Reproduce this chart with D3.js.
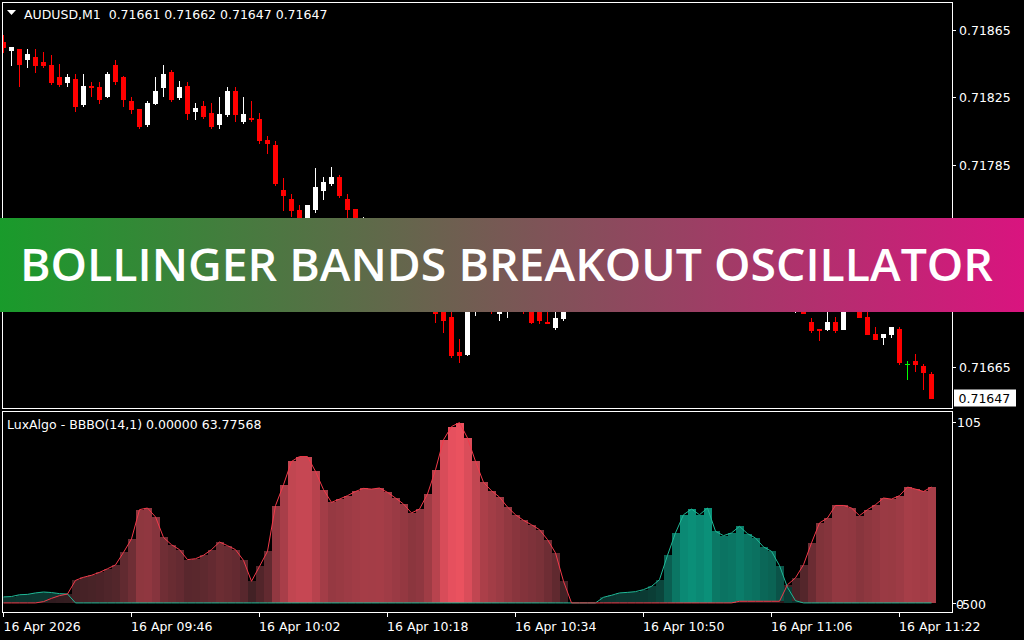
<!DOCTYPE html>
<html><head><meta charset="utf-8">
<script src="https://cdn.jsdelivr.net/npm/d3@7"></script>
<style>html,body{margin:0;padding:0;background:#000;overflow:hidden}svg{display:block}text{white-space:pre}</style>
</head><body><svg id="c" width="1024" height="640"></svg>
<script>
// ---------------- DATA ----------------
const symbolTitle = "AUDUSD,M1  0.71661 0.71662 0.71647 0.71647";
const oscTitle = "LuxAlgo - BBBO(14,1) 0.00000 63.77568";
const bannerTitle = "BOLLINGER BANDS BREAKOUT OSCILLATOR";
const lastPrice = 0.71647;

const opens = [0.71858,0.71853,0.71854,0.71848,0.71849,0.71846,0.71844,0.71837,0.71834,0.71836,
0.71821,0.71832,0.71831,0.71826,0.71844,0.71837,0.71823,0.71818,0.71809,0.71822,
0.71831,0.71840,0.71825,0.71832,0.71817,0.71820,0.71816,0.71809,0.71815,0.71829,
0.71811,0.71813,0.71812,0.71800,0.71797,0.71770,0.71765,0.71758,0.71740,0.71759,
0.71770,0.71774,0.71778,0.71765,0.71759,0.71744,0.71750,0.71738,0.71730,0.71736,
0.71728,0.71733,0.71738,0.71726,0.71704,0.71701,0.71695,0.71674,0.71673,0.71706,
0.71715,0.71710,0.71697,0.71702,0.71712,0.71706,0.71702,0.71700,0.71692,0.71689,
0.71694,0.71706,0.71712,0.71708,0.71716,0.71722,0.71727,0.71724,0.71731,0.71734,
0.71731,0.71737,0.71743,0.71746,0.71750,0.71743,0.71750,0.71745,0.71740,0.71748,
0.71738,0.71733,0.71740,0.71744,0.71736,0.71730,0.71725,0.71720,0.71713,0.71705,
0.71708,0.71692,0.71688,0.71688,0.71692,0.71688,0.71702,0.71700,0.71695,0.71685,
0.71683,0.71685,0.71688,0.71667,0.71669,0.71666,0.71661];
const highs = [0.71862,0.71855,0.71854,0.71854,0.71854,0.71852,0.71850,0.71845,0.71839,0.71839,
0.71839,0.71834,0.71834,0.71840,0.71847,0.71838,0.71825,0.71818,0.71823,0.71837,
0.71844,0.71841,0.71835,0.71834,0.71822,0.71823,0.71822,0.71825,0.71831,0.71831,
0.71825,0.71823,0.71816,0.71802,0.71799,0.71777,0.71768,0.71761,0.71761,0.71783,
0.71778,0.71784,0.71779,0.71768,0.71759,0.71754,0.71752,0.71741,0.71740,0.71738,
0.71737,0.71742,0.71740,0.71728,0.71706,0.71703,0.71699,0.71682,0.71710,0.71718,
0.71720,0.71712,0.71712,0.71715,0.71716,0.71709,0.71705,0.71702,0.71699,0.71698,
0.71710,0.71715,0.71716,0.71719,0.71725,0.71730,0.71731,0.71734,0.71737,0.71737,
0.71740,0.71745,0.71751,0.71752,0.71751,0.71752,0.71752,0.71748,0.71751,0.71750,
0.71741,0.71743,0.71747,0.71746,0.71739,0.71733,0.71728,0.71723,0.71715,0.71712,
0.71710,0.71694,0.71688,0.71699,0.71695,0.71705,0.71707,0.71703,0.71699,0.71689,
0.71685,0.71689,0.71689,0.71669,0.71673,0.71667,0.71662];
const lows = [0.71852,0.71844,0.71832,0.71843,0.71840,0.71843,0.71833,0.71832,0.71832,0.71817,
0.71820,0.71826,0.71822,0.71825,0.71833,0.71820,0.71816,0.71807,0.71808,0.71821,
0.71826,0.71823,0.71824,0.71812,0.71812,0.71813,0.71807,0.71807,0.71814,0.71811,
0.71810,0.71811,0.71798,0.71792,0.71773,0.71758,0.71755,0.71735,0.71736,0.71757,
0.71765,0.71773,0.71766,0.71754,0.71742,0.71740,0.71735,0.71727,0.71728,0.71724,
0.71725,0.71730,0.71722,0.71701,0.71692,0.71686,0.71671,0.71668,0.71672,0.71696,
0.71704,0.71697,0.71693,0.71695,0.71703,0.71697,0.71691,0.71691,0.71691,0.71688,
0.71693,0.71703,0.71705,0.71706,0.71713,0.71719,0.71721,0.71722,0.71728,0.71728,
0.71729,0.71735,0.71740,0.71744,0.71740,0.71741,0.71742,0.71737,0.71738,0.71735,
0.71730,0.71731,0.71737,0.71733,0.71727,0.71722,0.71717,0.71710,0.71703,0.71698,
0.71697,0.71686,0.71681,0.71687,0.71686,0.71688,0.71699,0.71695,0.71685,0.71682,
0.71679,0.71683,0.71667,0.71658,0.71663,0.71652,0.71647];
const closes = [0.71855,0.71855,0.71845,0.71851,0.71844,0.71844,0.71834,0.71833,0.71837,0.71820,
0.71832,0.71831,0.71824,0.71839,0.71835,0.71824,0.71818,0.71808,0.71822,0.71829,
0.71839,0.71824,0.71831,0.71816,0.71819,0.71814,0.71808,0.71815,0.71829,0.71815,
0.71815,0.71812,0.71800,0.71798,0.71774,0.71767,0.71758,0.71738,0.71761,0.71772,
0.71775,0.71778,0.71767,0.71759,0.71745,0.71750,0.71738,0.71730,0.71736,0.71728,
0.71733,0.71738,0.71726,0.71704,0.71697,0.71693,0.71672,0.71672,0.71708,0.71715,
0.71710,0.71699,0.71708,0.71712,0.71706,0.71700,0.71692,0.71693,0.71691,0.71694,
0.71706,0.71712,0.71708,0.71716,0.71722,0.71727,0.71724,0.71731,0.71734,0.71731,
0.71737,0.71743,0.71748,0.71750,0.71743,0.71750,0.71745,0.71740,0.71748,0.71738,
0.71733,0.71740,0.71744,0.71736,0.71730,0.71725,0.71720,0.71713,0.71706,0.71708,
0.71697,0.71687,0.71687,0.71692,0.71687,0.71702,0.71699,0.71695,0.71685,0.71682,
0.71685,0.71689,0.71668,0.71667,0.71667,0.71662,0.71647];

const bullOsc = [3.3,3.5,4.5,4.7,5.5,6.0,5.7,5.1,4.9,0,
0,0,0,0,0,0,0,0,0,0, 0,0,0,0,0,0,0,0,0,0, 0,0,0,0,0,0,0,0,0,0,
0,0,0,0,0,0,0,0,0,0, 0,0,0,0,0,0,0,0,0,0, 0,0,0,0,0,0,0,0,0,0,
0,0,0,0,0,3.1,4.2,5.5,5.8,6.2, 7.3,9.1,12.8,26.2,38.5,48.5,51.6,48.5,52.2,39.4,
37.0,38.5,42.1,38.1,35.7,30.8,28.4,20.5,8.5,1.2, 0,0,0,0,0,0,0,0,0,0, 0,0,0,0,0,0,0];
const bearOsc = [0,0,0,0,0,0.7,2.5,4.0,4.9,12.4,
14.1,15.2,16.8,18.8,20.9,27.8,35.2,51.3,52.2,47.3,
36.0,32.0,29.3,23.8,24.3,26.2,29.3,33.5,31.5,29.3,
23.4,11.9,20.1,28.4,53.5,65.0,77.8,80.5,80.5,72.3,
62.3,55.3,57.1,59.0,61.3,63.0,62.6,63.2,60.8,57.7,
54.4,49.5,51.6,59.9,73.2,89.7,97.0,99.2,90.7,77.8,
66.3,61.7,58.2,52.7,48.5,45.4,43.0,40.3,34.8,27.5,
11.9,0,0,0,0,0,0,0,0,0, 0,0,0,0,0,0,0,0,0,0,
0,0,0.9,0.9,0.9,0.9,0.9,0.9,10.0,13.8,
21.0,33.0,44.0,46.7,53.6,53.6,52.2,48.0,51.3,54.0,
57.7,57.1,59.0,63.7,62.6,61.3,63.77568];

// price labels visible in the picture (0.71745 and 0.71705 lie under the banner)
const priceTicks = [0.71865,0.71825,0.71785,0.71665];
const timeTickIdx = [0,16,32,48,64,80,96,112];
const timeTickLabels = ["16 Apr 2026","16 Apr 09:46","16 Apr 10:02","16 Apr 10:18","16 Apr 10:34","16 Apr 10:50","16 Apr 11:06","16 Apr 11:22"];

// ---------------- DRAW ----------------
const svg = d3.select("#c");
const FONT = "DejaVu Sans, Verdana, sans-serif";
const FS = 12.5;
svg.append("rect").attr("width",1024).attr("height",640).attr("fill","#000");

const n = opens.length;
const x = d3.scaleLinear().domain([0, n-1]).range([3.5, 3.5 + 8*(n-1)]);
const yP = d3.scaleLinear().domain([0.71665, 0.71865]).range([367.3, 30]);
const yO = d3.scaleLinear().domain([-5, 105]).range([612, 412]);

const defs = svg.append("defs");
defs.append("clipPath").attr("id","cpMain").append("rect").attr("x",3).attr("y",3).attr("width",949).attr("height",405);
defs.append("clipPath").attr("id","cpOsc").append("rect").attr("x",3).attr("y",412).attr("width",949).attr("height",200);

// candles
const gC = svg.append("g").attr("clip-path","url(#cpMain)");
const candles = d3.range(n).map(i => ({i, o:opens[i], h:highs[i], l:lows[i], c:closes[i]}));
candles.forEach(d => {
  const cx = x(d.i);
  const col = d.c > d.o ? "#ffffff" : (d.c < d.o ? "#ff0000" : "#00ff00");
  const yh = Math.round(yP(d.h)), yl = Math.round(yP(d.l));
  gC.append("line").attr("x1",cx).attr("x2",cx).attr("y1",yh).attr("y2",yl+1)
    .attr("stroke",col).attr("stroke-width",1).attr("shape-rendering","crispEdges");
  const yt = Math.round(yP(Math.max(d.o,d.c))), yb = Math.round(yP(Math.min(d.o,d.c)));
  if (d.c === d.o) {
    gC.append("line").attr("x1",cx-2.5).attr("x2",cx+2.5).attr("y1",yt+0.5).attr("y2",yt+0.5)
      .attr("stroke",col).attr("stroke-width",1).attr("shape-rendering","crispEdges");
  } else {
    gC.append("rect").attr("x",cx-2.5).attr("y",yt).attr("width",5).attr("height",Math.max(1,yb-yt+1))
      .attr("fill",col).attr("shape-rendering","crispEdges");
  }
});

// oscillator columns
const gO = svg.append("g").attr("clip-path","url(#cpOsc)");
const bearColor = d3.scaleLinear().domain([0,100]).range(["#2b1a1d","#ec5260"]).clamp(true);
const bullColor = d3.scaleLinear().domain([0,52]).range(["#0b2c28","#0b9079"]).clamp(true);
const y0 = Math.round(yO(0));
d3.range(n).forEach(i => {
  const items = [{v:bullOsc[i], c:bullColor(bullOsc[i])},{v:bearOsc[i], c:bearColor(bearOsc[i])}]
    .filter(e => e.v > 0).sort((a,b)=>b.v-a.v);
  items.forEach(e => {
    const yt = Math.round(yO(e.v));
    gO.append("rect").attr("x",x(i)-4).attr("y",yt).attr("width",8).attr("height",Math.max(0,y0-yt))
      .attr("fill",e.c).attr("shape-rendering","crispEdges");
  });
});
const lineGen = arr => d3.line().x((d,i)=>x(i)).y(d=>yO(d))(arr);
gO.append("path").attr("d",lineGen(bullOsc)).attr("fill","none").attr("stroke","#1fb896").attr("stroke-width",1);
gO.append("path").attr("d",lineGen(bearOsc)).attr("fill","none").attr("stroke","#f23a4a").attr("stroke-width",1);

// borders
svg.append("rect").attr("x",2.5).attr("y",2.5).attr("width",950).attr("height",406)
  .attr("fill","none").attr("stroke","#fff").attr("stroke-width",1);
svg.append("rect").attr("x",2.5).attr("y",411.5).attr("width",950).attr("height",201)
  .attr("fill","none").attr("stroke","#fff").attr("stroke-width",1);

// price axis
const gA = svg.append("g").attr("font-family",FONT).attr("font-size",FS).attr("fill","#fff");
priceTicks.forEach(p => {
  const yy = Math.round(yP(p)) + 0.5;
  gA.append("line").attr("x1",953).attr("x2",956).attr("y1",yy).attr("y2",yy).attr("stroke","#fff");
  gA.append("text").attr("x",959).attr("y",yy).attr("dy","0.36em").text(p.toFixed(5));
});
const yl = Math.round(yP(lastPrice));
svg.append("rect").attr("x",954).attr("y",yl-8.5).attr("width",62).attr("height",17).attr("fill","#fff");
svg.append("text").attr("x",958.5).attr("y",yl).attr("dy","0.36em").attr("font-family",FONT).attr("font-size",FS)
  .attr("fill","#000").text(lastPrice.toFixed(5));

// osc axis labels
gA.append("line").attr("x1",953).attr("x2",956).attr("y1",422.5).attr("y2",422.5).attr("stroke","#fff");
gA.append("text").attr("x",957).attr("y",422).attr("dy","0.36em").text("105");
gA.append("line").attr("x1",953).attr("x2",956).attr("y1",603.5).attr("y2",603.5).attr("stroke","#fff");
gA.append("text").attr("x",956).attr("y",604).attr("dy","0.36em").text("0");
gA.append("text").attr("x",957.5).attr("y",604).attr("dy","0.36em").text("-500");

// time axis
timeTickIdx.forEach((ti,k) => {
  const xx = x(ti);
  gA.append("line").attr("x1",xx).attr("x2",xx).attr("y1",612).attr("y2",617).attr("stroke","#fff");
  gA.append("text").attr("x",xx - (k===0?0:0.5)).attr("y",626).attr("dy","0.36em").text(timeTickLabels[k]);
});

// titles
svg.append("path").attr("d","M7,10 L16,10 L11.5,15 Z").attr("fill","#fff");
svg.append("text").attr("x",24).attr("y",14).attr("dy","0.36em").attr("font-family",FONT).attr("font-size",FS)
  .attr("fill","#fff").text(symbolTitle);
svg.append("text").attr("x",7).attr("y",424).attr("dy","0.36em").attr("font-family",FONT).attr("font-size",FS)
  .attr("fill","#fff").text(oscTitle);

// banner
const grad = defs.append("linearGradient").attr("id","bg").attr("x1","0").attr("x2","1").attr("y1","0").attr("y2","0");
grad.append("stop").attr("offset","0%").attr("stop-color","#199b2b");
grad.append("stop").attr("offset","100%").attr("stop-color","#d9147f");
svg.append("rect").attr("x",0).attr("y",218).attr("width",1024).attr("height",94).attr("fill","url(#bg)");
svg.append("text").attr("x",20).attr("y",281).attr("font-family","Open Sans, Noto Sans, sans-serif")
  .attr("font-weight",600).attr("font-size",46).attr("fill","#fff")
  .attr("textLength",973).attr("lengthAdjust","spacingAndGlyphs").text(bannerTitle);
</script></body></html>
